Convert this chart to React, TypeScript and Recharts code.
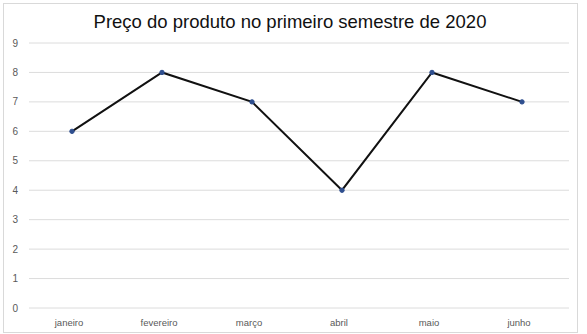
import React from 'react';
import { LineChart, Line, XAxis, YAxis, CartesianGrid } from 'recharts';

const months = ['janeiro', 'fevereiro', 'março', 'abril', 'maio', 'junho'];
const prices = [6, 8, 7, 4, 8, 7];
const yTicks = [0, 1, 2, 3, 4, 5, 6, 7, 8, 9];

const data = months.map((m, i) => ({ month: m, price: prices[i] }));

const App: React.FC = () => {
    const font = '"Liberation Sans", Arial, sans-serif';
    return (
        <div style={{ position: 'absolute', left: 0, top: 0, width: 587, height: 334, background: '#fff', fontFamily: font }}>
            <div
                style={{
                    position: 'absolute',
                    left: 3,
                    top: 3,
                    width: 573,
                    height: 328,
                    border: '1px solid #d9d9d9',
                }}
            />
            <div
                style={{
                    position: 'absolute',
                    left: 3,
                    width: 574,
                    top: 11,
                    textAlign: 'center',
                    fontSize: 18.5,
                    color: '#111',
                }}
            >
                Preço do produto no primeiro semestre de 2020
            </div>
            <div style={{ position: 'absolute', left: 0, top: 0 }}>
                <LineChart width={587} height={334} data={data} margin={{ top: 43, right: 18, bottom: 0, left: 0 }}>
                    <CartesianGrid vertical={false} stroke="#dcdcdc" />
                    <XAxis
                        dataKey="month"
                        height={26}
                        axisLine={false}
                        tickLine={false}
                        padding={{ left: 43, right: 47 }}
                        tickMargin={5}
                        tick={{ fontSize: 9.5, fill: '#595959', fontFamily: font, dx: -3 }}
                        interval={0}
                    />
                    <YAxis
                        width={29}
                        domain={[0, 9]}
                        ticks={yTicks}
                        axisLine={false}
                        tickLine={false}
                        tickMargin={5}
                        tick={{ fontSize: 10, fill: '#595959', fontFamily: font }}
                    />
                    <Line
                        type="linear"
                        dataKey="price"
                        stroke="#111"
                        strokeWidth={2}
                        dot={{ r: 2.2, fill: '#2f4f8f', stroke: '#2f4f8f', strokeWidth: 1 }}
                        isAnimationActive={false}
                    />
                </LineChart>
            </div>
        </div>
    );
};

export default App;
